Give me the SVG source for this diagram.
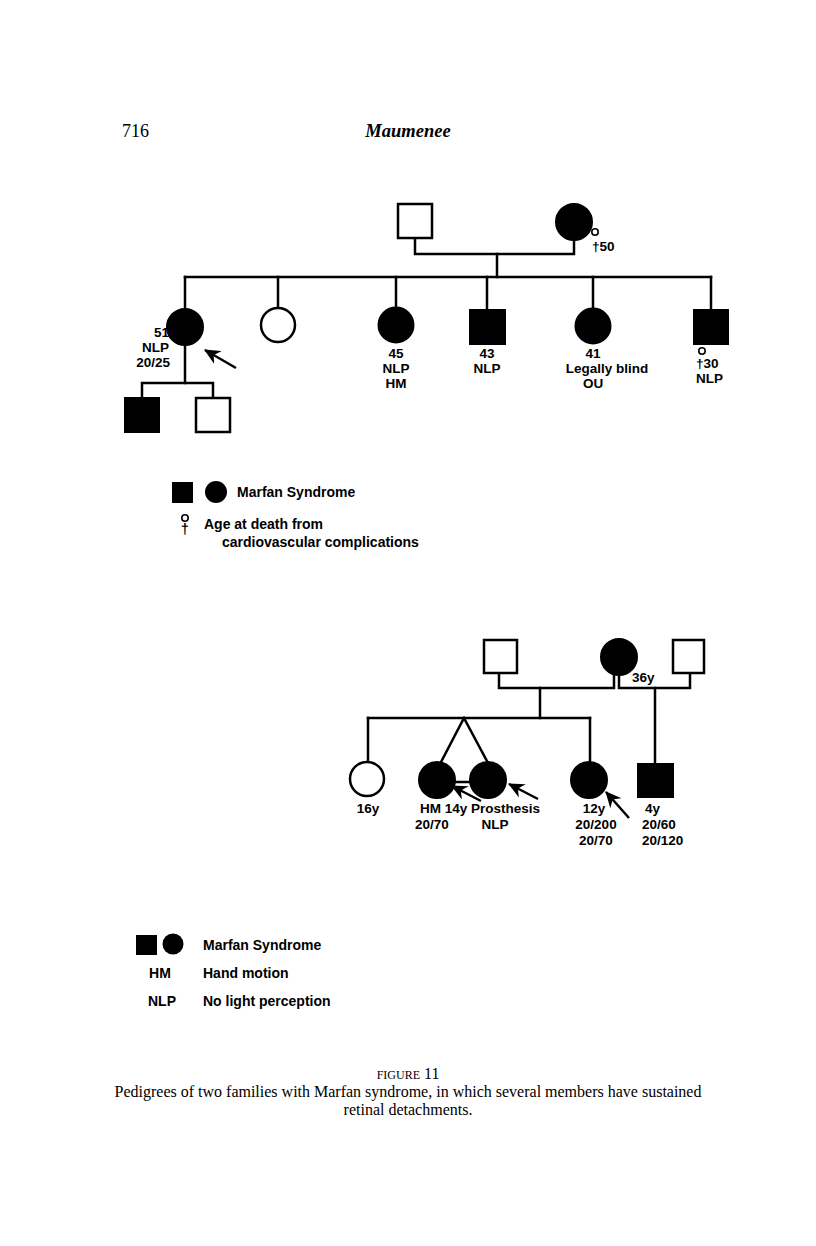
<svg xmlns="http://www.w3.org/2000/svg" width="816" height="1246" viewBox="0 0 816 1246">
<style>
.ln{stroke:#000;stroke-width:2.5;fill:none;stroke-linecap:square}
.open{fill:#fff;stroke:#000;stroke-width:2.5}
.aff{fill:#000;stroke:#000;stroke-width:2}
.lb{font-family:"Liberation Sans",Arial,sans-serif;font-weight:bold;font-size:13.5px;fill:#000}
.lg{font-family:"Liberation Sans",Arial,sans-serif;font-weight:bold;font-size:14px;fill:#000}
.c{text-anchor:middle}
.ser{font-family:"Liberation Serif","Times New Roman",serif;fill:#000}
.arr{stroke:#000;stroke-width:2.5;fill:none;marker-end:url(#ah)}
</style>
<defs>
<marker id="ah" markerWidth="16" markerHeight="15" refX="15" refY="7.5" orient="auto" markerUnits="userSpaceOnUse">
<path d="M0,0 L16,7.5 L0,15 L5,7.5 Z" fill="#000"/>
</marker>
</defs>
<rect width="816" height="1246" fill="#fff"/>
<text class="ser" x="122" y="137" font-size="18">716</text>
<text class="ser" x="408" y="137" font-size="18.5" font-style="italic" font-weight="bold" text-anchor="middle">Maumenee</text>

<g id="connectors">
<polyline class="ln" points="415,238 415,254 574,254 574,240"/>
<line class="ln" x1="497" y1="254" x2="497" y2="277"/>
<line class="ln" x1="185" y1="277" x2="711" y2="277"/>
<line class="ln" x1="185" y1="277" x2="185" y2="309"/>
<line class="ln" x1="278" y1="277" x2="278" y2="308"/>
<line class="ln" x1="396" y1="277" x2="396" y2="307"/>
<line class="ln" x1="487" y1="277" x2="487" y2="309"/>
<line class="ln" x1="593" y1="277" x2="593" y2="308"/>
<line class="ln" x1="711" y1="277" x2="711" y2="309"/>
<line class="ln" x1="185" y1="345" x2="185" y2="383"/>
<polyline class="ln" points="142,397 142,383 213,383 213,397"/>
<line class="arr" x1="236" y1="368" x2="205" y2="350"/>
<polyline class="ln" points="499,673 499,688 614,688 614,674"/>
<polyline class="ln" points="619,674 619,688 690,688 690,673"/>
<line class="ln" x1="540" y1="688" x2="540" y2="718"/>
<line class="ln" x1="655" y1="688" x2="655" y2="763"/>
<line class="ln" x1="368" y1="718" x2="590" y2="718"/>
<line class="ln" x1="368" y1="718" x2="368" y2="762"/>
<line class="ln" x1="590" y1="718" x2="590" y2="762"/>
<line class="ln" x1="464" y1="718" x2="440" y2="764"/>
<line class="ln" x1="464" y1="718" x2="488" y2="763"/>
<line class="ln" x1="440" y1="782" x2="486" y2="782"/>
<line class="arr" x1="481" y1="801" x2="452" y2="786"/>
<line class="arr" x1="538" y1="799" x2="509" y2="784"/>
<line class="arr" x1="629" y1="818" x2="606" y2="792"/>
</g>

<g id="f1-father"><rect class="open" x="398" y="204" width="34" height="34"/></g>
<g id="f1-mother"><circle class="aff" cx="574" cy="222" r="18"/>
<circle cx="595" cy="232" r="3.2" fill="#fff" stroke="#000" stroke-width="1.6"/>
<text class="lb" x="592" y="251">†50</text></g>

<g id="f1-proband"><circle class="aff" cx="185" cy="327" r="18"/>
<text class="lb" x="169" y="337" text-anchor="end">51</text>
<text class="lb" x="169" y="352.2" text-anchor="end">NLP</text>
<text class="lb" x="170" y="367.4" text-anchor="end">20/25</text></g>
<g id="f1-sis2"><circle class="open" cx="278" cy="325" r="17"/></g>
<g id="f1-sis3"><circle class="aff" cx="396" cy="325" r="17.5"/>
<text class="lb c" x="396" y="358">45</text>
<text class="lb c" x="396" y="373.2">NLP</text>
<text class="lb c" x="396" y="388.4">HM</text></g>
<g id="f1-bro43"><rect class="aff" x="470" y="310" width="35" height="34"/>
<text class="lb c" x="487" y="358">43</text>
<text class="lb c" x="487" y="373.2">NLP</text></g>
<g id="f1-sis41"><circle class="aff" cx="593" cy="326" r="17.5"/>
<text class="lb c" x="593" y="358">41</text>
<text class="lb c" x="607" y="373.2">Legally blind</text>
<text class="lb c" x="593" y="388.4">OU</text></g>
<g id="f1-bro30"><rect class="aff" x="694" y="310" width="34" height="34"/>
<circle cx="702" cy="351" r="3.2" fill="#fff" stroke="#000" stroke-width="1.6"/>
<text class="lb" x="696" y="368">†30</text>
<text class="lb" x="696" y="383.2">NLP</text></g>
<g id="f1-son1"><rect class="aff" x="125" y="398" width="34" height="34"/></g>
<g id="f1-son2"><rect class="open" x="196" y="398" width="34" height="34"/></g>

<g id="legend1">
<rect x="172" y="482" width="21" height="21" fill="#000"/>
<circle cx="216" cy="492" r="11" fill="#000"/>
<text class="lg" x="237" y="497">Marfan Syndrome</text>
<circle cx="185" cy="518" r="3.2" fill="#fff" stroke="#000" stroke-width="1.6"/>
<text class="lg c" x="185" y="534" fill="#000">†</text>
<text class="lg" x="204" y="529">Age at death from</text>
<text class="lg" x="222" y="547">cardiovascular complications</text>
</g>

<g id="f2-father"><rect class="open" x="484" y="640" width="33" height="33"/></g>
<g id="f2-mother"><circle class="aff" cx="619" cy="657" r="18"/>
<text class="lb" x="632" y="682">36y</text></g>
<g id="f2-husband2"><rect class="open" x="673" y="640" width="31" height="33"/></g>
<g id="f2-d16"><circle class="open" cx="367" cy="779" r="17"/>
<text class="lb c" x="368" y="813">16y</text></g>
<g id="f2-twin1"><circle class="aff" cx="437" cy="780" r="18"/>
<text class="lb" x="420" y="813">HM 14y Prosthesis</text>
<text class="lb c" x="432" y="829">20/70</text></g>
<g id="f2-twin2"><circle class="aff" cx="488" cy="780" r="18"/>
<text class="lb c" x="495" y="829">NLP</text></g>
<g id="f2-d12"><circle class="aff" cx="589" cy="780" r="18"/>
<text class="lb c" x="594" y="813">12y</text>
<text class="lb c" x="596" y="829">20/200</text>
<text class="lb c" x="596" y="845">20/70</text></g>
<g id="f2-son4"><rect class="aff" x="638" y="764" width="35" height="33"/>
<text class="lb" x="645" y="813">4y</text>
<text class="lb" x="642" y="829">20/60</text>
<text class="lb" x="642" y="845">20/120</text></g>

<g id="legend2">
<rect x="136" y="935" width="21" height="20" fill="#000"/>
<circle cx="173" cy="944" r="10.5" fill="#000"/>
<text class="lg" x="203" y="950">Marfan Syndrome</text>
<text class="lg c" x="160" y="978">HM</text>
<text class="lg" x="203" y="978">Hand motion</text>
<text class="lg c" x="162" y="1006">NLP</text>
<text class="lg" x="203" y="1006">No light perception</text>
</g>

<g id="caption">
<text class="ser" x="408" y="1079" text-anchor="middle"><tspan font-size="12">FIGURE</tspan><tspan font-size="16"> 11</tspan></text>
<text class="ser" x="408" y="1097" font-size="16" text-anchor="middle">Pedigrees of two families with Marfan syndrome, in which several members have sustained</text>
<text class="ser" x="408" y="1115" font-size="16" text-anchor="middle">retinal detachments.</text>
</g>
</svg>
